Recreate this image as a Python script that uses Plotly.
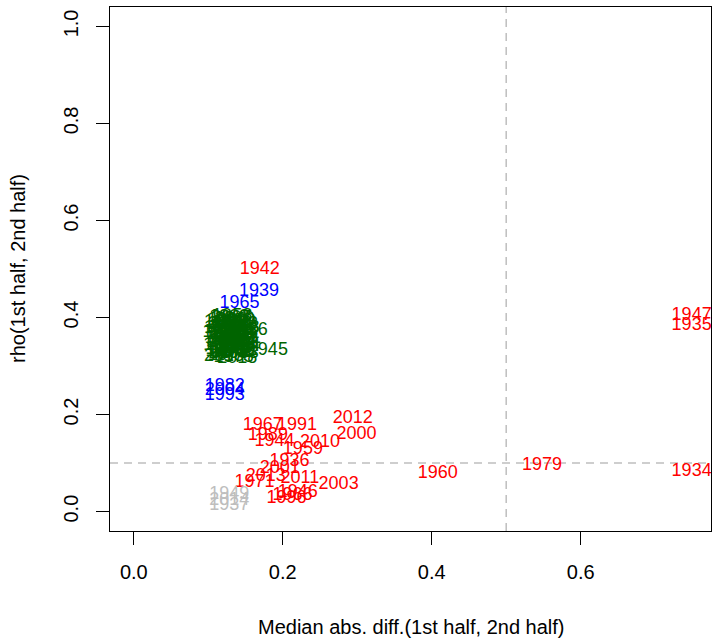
import plotly.graph_objects as go

# ---- data (x = median abs. diff, y = rho) ----
red_years = ["1942", "1947", "1935", "1934", "1979", "1960", "2012", "2000", "1967", "1991",
             "1989", "1944", "2010", "1959", "1936", "2001", "2013", "1971", "2011", "2003",
             "1946", "1966", "1996"]
red_x = [0.169, 0.749, 0.749, 0.749, 0.548, 0.408, 0.294, 0.299, 0.173, 0.219,
         0.180, 0.189, 0.250, 0.227, 0.209, 0.196, 0.177, 0.162, 0.223, 0.275,
         0.220, 0.213, 0.205]
red_y = [0.499, 0.404, 0.384, 0.082, 0.095, 0.078, 0.192, 0.159, 0.177, 0.177,
         0.157, 0.144, 0.142, 0.128, 0.103, 0.089, 0.072, 0.060, 0.068, 0.056,
         0.039, 0.033, 0.027]

blue_years = ["1939", "1965", "1982", "2004", "1993"]
blue_x = [0.168, 0.142, 0.122, 0.122, 0.122]
blue_y = [0.454, 0.429, 0.258, 0.249, 0.239]

green_years = ["1938", "1940", "1941", "1943", "1945", "1948", "1950", "1951", "1952", "1953",
               "1954", "1955", "1956", "1957", "1958", "1961", "1962", "1963", "1964", "1968",
               "1969", "1970", "1972", "1973", "1974", "1975", "1976", "1977", "1978", "1980",
               "1981", "1983", "1984", "1985", "1987", "1988", "1990", "1992", "1994", "1995",
               "1997", "1998", "1999", "2002", "2005", "2006", "2007", "2008", "2009", "2015",
               "2016", "2018"]
green_x = [0.128, 0.135, 0.121, 0.140, 0.180, 0.126, 0.133, 0.119, 0.142, 0.128,
           0.136, 0.122, 0.130, 0.140, 0.132, 0.125, 0.135, 0.120, 0.143, 0.129,
           0.137, 0.123, 0.131, 0.141, 0.126, 0.134, 0.153, 0.138, 0.124, 0.131,
           0.144, 0.127, 0.133, 0.139, 0.121, 0.130, 0.136, 0.125, 0.138, 0.129,
           0.132, 0.142, 0.123, 0.135, 0.127, 0.140, 0.131, 0.126, 0.137, 0.121,
           0.133, 0.139]
green_y = [0.400, 0.395, 0.390, 0.386, 0.332, 0.380, 0.375, 0.370, 0.368, 0.364,
           0.360, 0.357, 0.354, 0.351, 0.403, 0.348, 0.345, 0.342, 0.340, 0.337,
           0.334, 0.331, 0.328, 0.325, 0.322, 0.318, 0.373, 0.362, 0.366, 0.388,
           0.356, 0.350, 0.383, 0.372, 0.378, 0.343, 0.352, 0.393, 0.340, 0.370,
           0.359, 0.377, 0.335, 0.330, 0.326, 0.346, 0.398, 0.385, 0.391, 0.320,
           0.365, 0.316]

grey_years = ["1949", "2014", "1937"]
grey_x = [0.128, 0.128, 0.128]
grey_y = [0.035, 0.023, 0.012]

x_ticks = [0.0, 0.2, 0.4, 0.6]
x_tick_labels = ["0.0", "0.2", "0.4", "0.6"]
y_ticks = [0.0, 0.2, 0.4, 0.6, 0.8, 1.0]
y_tick_labels = ["0.0", "0.2", "0.4", "0.6", "0.8", "1.0"]
x_cut = 0.5
y_cut = 0.1

FONT = "Liberation Sans, Arial, Helvetica, sans-serif"
LABEL_SIZE = 18
AXIS_SIZE = 20

fig = go.Figure()


def add_labels(xs, ys, texts, color):
    fig.add_trace(go.Scatter(
        x=xs, y=ys, text=texts, mode="text", textposition="middle center",
        textfont=dict(family=FONT, size=LABEL_SIZE, color=color),
        hoverinfo="skip", showlegend=False, cliponaxis=True))


add_labels(red_x, red_y, red_years, "#FF0000")
add_labels(blue_x, blue_y, blue_years, "#0000FF")
add_labels(green_x, green_y, green_years, "#006400")
add_labels(grey_x, grey_y, grey_years, "#BEBEBE")

fig.add_vline(x=x_cut, line=dict(color="#BEBEBE", width=1.5, dash="8px,6px"), layer="below")
fig.add_hline(y=y_cut, line=dict(color="#BEBEBE", width=1.5, dash="8px,6px"), layer="below")

fig.update_layout(
    width=714, height=638,
    margin=dict(l=110, r=3, t=7, b=107),
    paper_bgcolor="white", plot_bgcolor="white",
    font=dict(family=FONT, size=AXIS_SIZE, color="black"),
    xaxis=dict(range=[-0.032, 0.775], tickvals=x_ticks, ticktext=x_tick_labels,
               showgrid=False, zeroline=False, showline=True, linecolor="black",
               linewidth=1.2, mirror=True, ticks="outside", ticklen=13, tickwidth=1.2,
               tickcolor="black", ticklabelstandoff=10,
               tickfont=dict(family=FONT, size=AXIS_SIZE, color="black")),
    yaxis=dict(range=[-0.04, 1.04], tickvals=y_ticks, ticktext=y_tick_labels,
               showgrid=False, zeroline=False, showline=True, linecolor="black",
               linewidth=1.2, mirror=True, ticks="outside", ticklen=13, tickwidth=1.2,
               tickcolor="black", tickangle=-90, ticklabelstandoff=10,
               tickfont=dict(family=FONT, size=AXIS_SIZE, color="black")),
    annotations=[
        dict(text="Median abs. diff.(1st half, 2nd half)", xref="paper", yref="paper",
             x=0.5, y=0, yshift=-96, showarrow=False, xanchor="center", yanchor="middle",
             font=dict(family=FONT, size=AXIS_SIZE, color="black")),
        dict(text="rho(1st half, 2nd half)", xref="paper", yref="paper",
             x=0, y=0.5, xshift=-92, showarrow=False, xanchor="center", yanchor="middle",
             textangle=-90, font=dict(family=FONT, size=AXIS_SIZE, color="black")),
    ],
)

fig.write_html(
    "out.html",
    config={"displayModeBar": False},
    post_script="document.body.style.margin='0';document.body.style.padding='0';"
                "document.body.style.overflow='hidden';",
)
